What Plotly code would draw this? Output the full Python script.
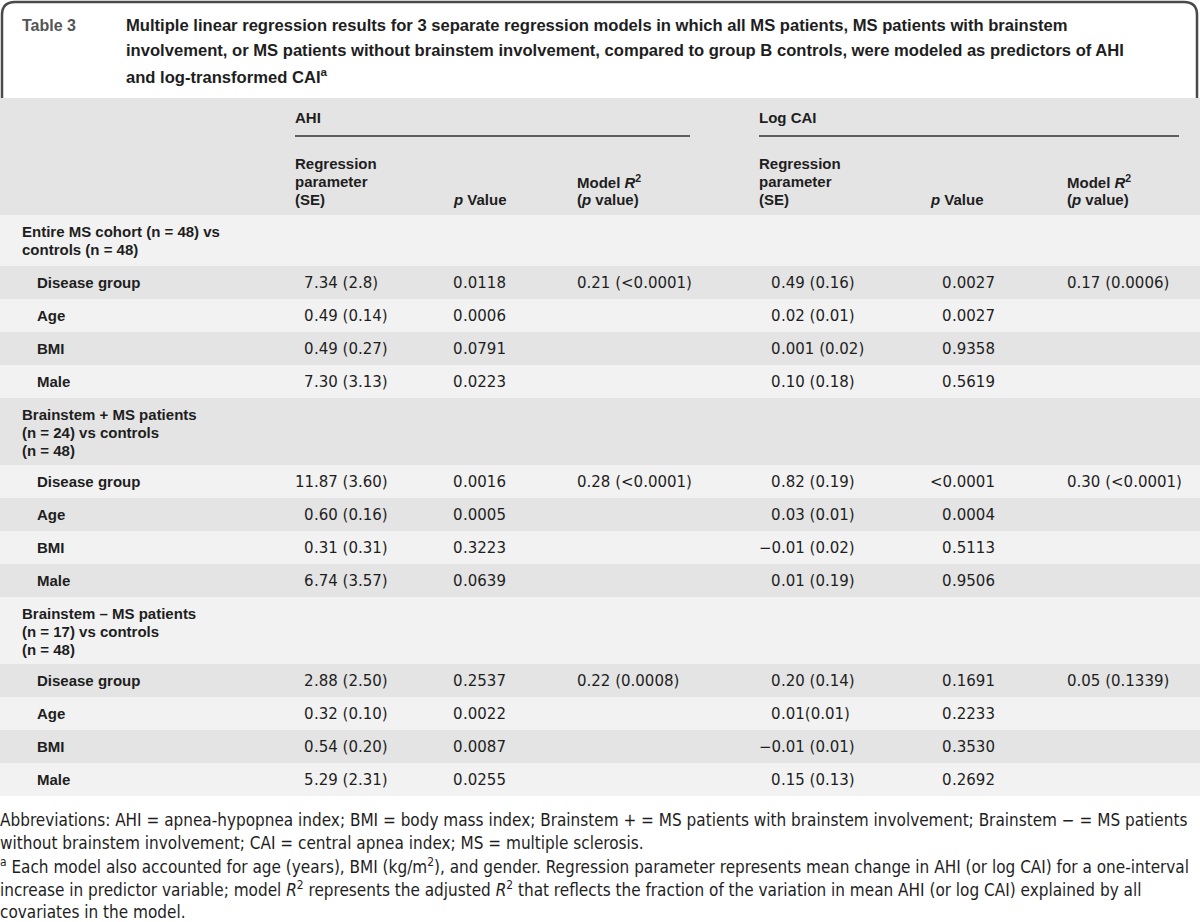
import plotly.graph_objects as go

# ---------------- data ----------------
title_label = "Table 3"
title_lines = [
    "Multiple linear regression results for 3 separate regression models in which all MS patients, MS patients with brainstem",
    "involvement, or MS patients without brainstem involvement, compared to group B controls, were modeled as predictors of AHI",
    "and log-transformed CAI<sup>a</sup>",
]
outcomes = ["AHI", "Log CAI"]
col_headers = [["Regression", "parameter", "(SE)"], ["<i>p</i> Value"], ["Model <i>R</i><sup>2</sup>", "(<i>p</i> value)"]]

groups = [
    ["Entire MS cohort (n = 48) vs", "controls (n = 48)"],
    ["Brainstem + MS patients", "(n = 24) vs controls", "(n = 48)"],
    ["Brainstem \u2013 MS patients", "(n = 17) vs controls", "(n = 48)"],
]
predictors = ["Disease group", "Age", "BMI", "Male"]

ahi_param = [
    ["7.34 (2.8)", "0.49 (0.14)", "0.49 (0.27)", "7.30 (3.13)"],
    ["11.87 (3.60)", "0.60 (0.16)", "0.31 (0.31)", "6.74 (3.57)"],
    ["2.88 (2.50)", "0.32 (0.10)", "0.54 (0.20)", "5.29 (2.31)"],
]
ahi_p = [
    ["0.0118", "0.0006", "0.0791", "0.0223"],
    ["0.0016", "0.0005", "0.3223", "0.0639"],
    ["0.2537", "0.0022", "0.0087", "0.0255"],
]
ahi_r2 = ["0.21 (<0.0001)", "0.28 (<0.0001)", "0.22 (0.0008)"]

cai_param = [
    ["0.49 (0.16)", "0.02 (0.01)", "0.001 (0.02)", "0.10 (0.18)"],
    ["0.82 (0.19)", "0.03 (0.01)", "\u22120.01 (0.02)", "0.01 (0.19)"],
    ["0.20 (0.14)", "0.01(0.01)", "\u22120.01 (0.01)", "0.15 (0.13)"],
]
cai_p = [
    ["0.0027", "0.0027", "0.9358", "0.5619"],
    ["<0.0001", "0.0004", "0.5113", "0.9506"],
    ["0.1691", "0.2233", "0.3530", "0.2692"],
]
cai_r2 = ["0.17 (0.0006)", "0.30 (<0.0001)", "0.05 (0.1339)"]

footnotes = [
    "Abbreviations: AHI = apnea-hypopnea index; BMI = body mass index; Brainstem + = MS patients with brainstem involvement; Brainstem \u2212 = MS patients",
    "without brainstem involvement; CAI = central apnea index; MS = multiple sclerosis.",
    "<sup>a</sup> Each model also accounted for age (years), BMI (kg/m<sup>2</sup>), and gender. Regression parameter represents mean change in AHI (or log CAI) for a one-interval",
    "increase in predictor variable; model <i>R</i><sup>2</sup> represents the adjusted <i>R</i><sup>2</sup> that reflects the fraction of the variation in mean AHI (or log CAI) explained by all",
    "covariates in the model.",
]

# ---------------- style ----------------
W, H = 1200, 922
FONT = "Liberation Sans, Arial, sans-serif"
VALFONT = "DejaVu Sans, sans-serif"
NOTEFONT = "DejaVu Sans Condensed, Liberation Sans, sans-serif"
TXT = "#1e1e1e"
GRAY = "#e4e4e4"
LIGHT = "#f2f2f2"
VAL_SIZE = 15
LAB_SIZE = 15

cols = {
    "AHI": dict(head=295, param_dec=314, p_head=453, p_dec=462.5, r2=577, line=(295, 690)),
    "Log CAI": dict(head=759, param_dec=780.5, p_head=930, p_dec=951.5, r2=1067, line=(759, 1179)),
}

fig = go.Figure()
shapes = []
ann = []


def esc(s):
    return s.replace("<", "&lt;")


def text(x, y, s, size=VAL_SIZE, bold=False, anchor="left", color=TXT, family=FONT):
    ann.append(dict(
        x=x, y=y, xref="x", yref="y", text=("<b>%s</b>" % s) if bold else s,
        showarrow=False, xanchor=anchor, yanchor="middle", align=anchor,
        borderpad=0, borderwidth=0,
        font=dict(family=family, size=size, color=color),
    ))


def val(x, y, s, anchor="left"):
    text(x, y, esc(s), size=VAL_SIZE, anchor=anchor, family=VALFONT)


def dec_text(xdec, y, s):
    i = s.find(".")
    val(xdec, y, s[:i], anchor="right")
    val(xdec, y, s[i:], anchor="left")


def rect(y0, y1, color):
    shapes.append(dict(type="rect", xref="x", yref="y", x0=0, x1=W, y0=y0, y1=y1,
                       fillcolor=color, line=dict(width=0), layer="below"))

# title box
shapes.append(dict(type="path", xref="x", yref="y",
                   path="M 2,98 L 2,15 Q 2,2 15,2 L 1184,2 Q 1197,2 1197,15 L 1197,98",
                   line=dict(color="#4a4a4a", width=2.5)))
text(22, 25, title_label, size=16, bold=True, color="#555555")
for k, line in enumerate(title_lines):
    text(126, 25 + 25.5 * k, line, size=16.6, bold=True)

# header
rect(98, 215, GRAY)
for name in outcomes:
    c = cols[name]
    text(c["head"], 117, name, size=LAB_SIZE, bold=True)
    shapes.append(dict(type="line", xref="x", yref="y", x0=c["line"][0], x1=c["line"][1],
                       y0=136, y1=136, line=dict(color="#333333", width=1.5)))
    for k, s in enumerate(col_headers[0]):
        text(c["head"], 163 + 18 * k, s, size=LAB_SIZE, bold=True)
    text(c["p_head"], 199, col_headers[1][0], size=LAB_SIZE, bold=True)
    for k, s in enumerate(col_headers[2]):
        text(c["r2"], 181 + 18 * k, s, size=LAB_SIZE, bold=True)

# body
y = 215
band = 0
ROW_H = 33
for g, glines in enumerate(groups):
    gh = 51 if len(glines) == 2 else 67
    rect(y, y + gh, LIGHT if band % 2 == 0 else GRAY)
    band += 1
    for k, s in enumerate(glines):
        text(22, y + 16 + 18 * k, s, size=LAB_SIZE, bold=True)
    y += gh
    for i, pred in enumerate(predictors):
        rect(y, y + ROW_H, LIGHT if band % 2 == 0 else GRAY)
        band += 1
        yc = y + 16.5
        text(37, yc, pred, size=LAB_SIZE, bold=True)
        dec_text(cols["AHI"]["param_dec"], yc, ahi_param[g][i])
        dec_text(cols["AHI"]["p_dec"], yc, ahi_p[g][i])
        dec_text(cols["Log CAI"]["param_dec"], yc, cai_param[g][i])
        dec_text(cols["Log CAI"]["p_dec"], yc, cai_p[g][i])
        if i == 0:
            val(cols["AHI"]["r2"], yc, ahi_r2[g])
            val(cols["Log CAI"]["r2"], yc, cai_r2[g])
        y += ROW_H

# footnotes
for k, s in enumerate(footnotes):
    text(0, 820 + 23 * k, s, size=17, family=NOTEFONT)

fig.update_layout(
    width=W, height=H, margin=dict(l=0, r=0, t=0, b=0),
    paper_bgcolor="white", plot_bgcolor="white",
    xaxis=dict(range=[0, W], visible=False, fixedrange=True),
    yaxis=dict(range=[H, 0], visible=False, fixedrange=True),
    shapes=shapes, annotations=ann, showlegend=False,
)
fig.write_html("out.html", config={"displayModeBar": False},
               post_script="document.body.style.margin='0px';document.body.style.overflow='hidden';")
